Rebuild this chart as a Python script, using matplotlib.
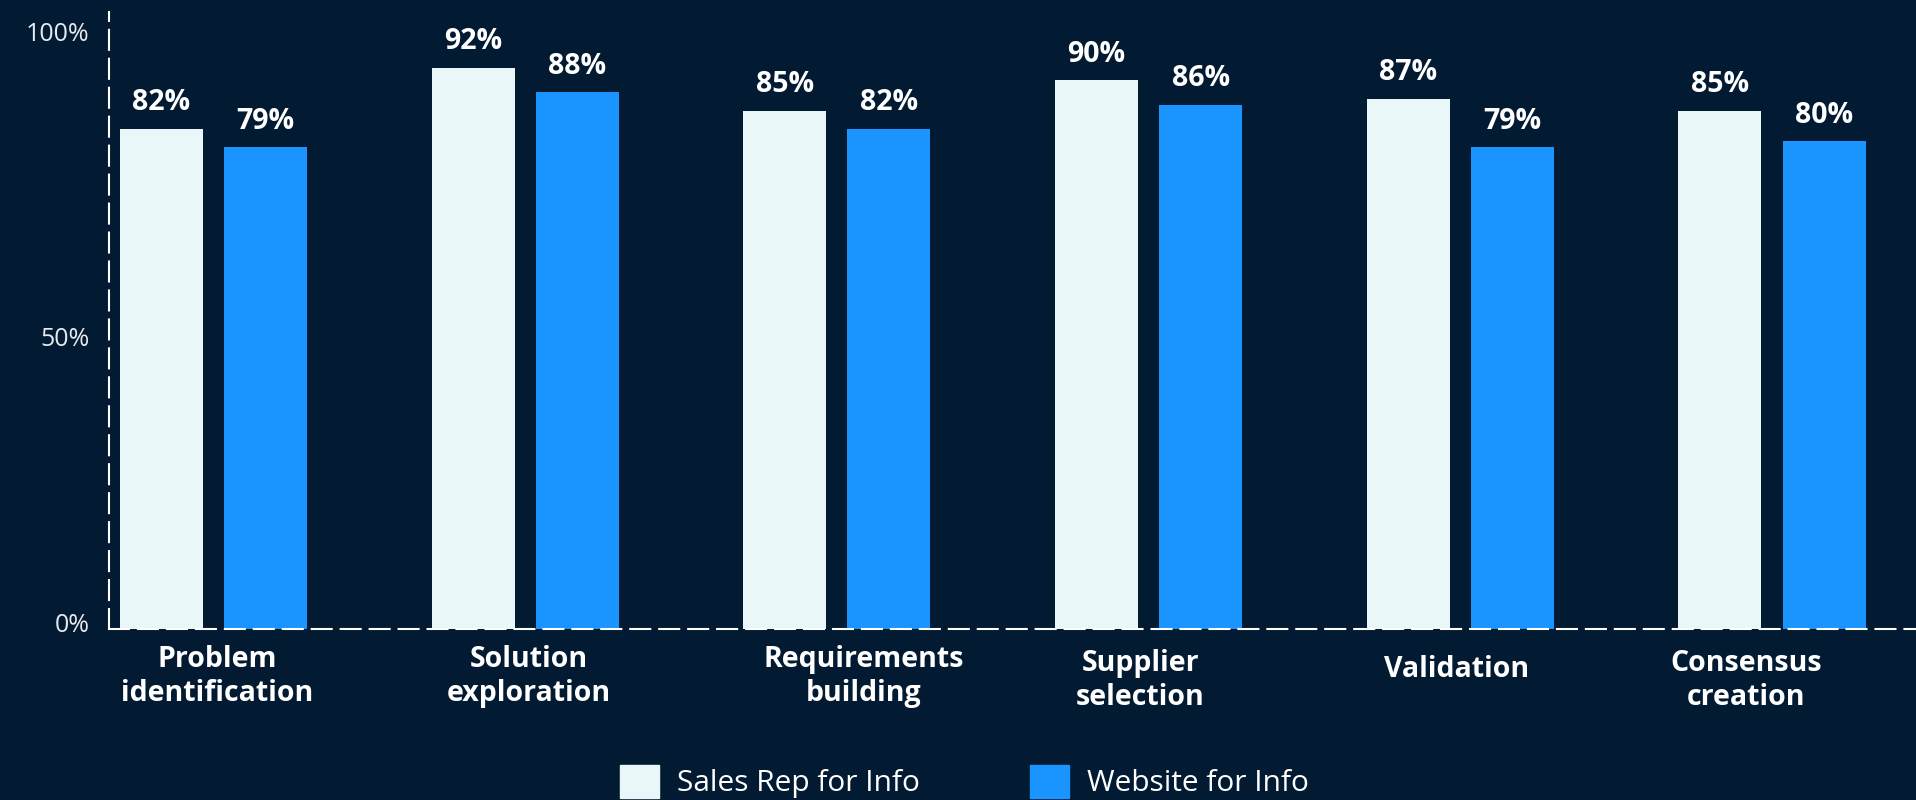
import matplotlib.pyplot as plt
import matplotlib.patches as mpatches
import matplotlib.transforms as mtransforms
import numpy as np

# data
categories = ["Problem\nidentification", "Solution\nexploration", "Requirements\nbuilding",
              "Supplier\nselection", "Validation", "Consensus\ncreation"]
sales_rep = [82, 92, 85, 90, 87, 85]
website = [79, 88, 82, 86, 79, 80]
series_names = ["Sales Rep for Info", "Website for Info"]
y_ticks = [0, 50, 100]

bg = "#021b32"
c_sales = "#e9f7f9"
c_web = "#1a94ff"

plt.rcParams['font.family'] = ['Open Sans', 'DejaVu Sans']

fig = plt.figure(figsize=(19.16, 8), dpi=100, facecolor=bg)
ax = fig.add_axes([109 / 1916, 1 - 629 / 800, 1807 / 1916, 617 / 800])
ax.set_facecolor(bg)

x = np.arange(len(categories))
w = 0.266
off = 0.167
ax.bar(x - off, sales_rep, w, color=c_sales, zorder=2)
ax.bar(x + off, website, w, color=c_web, zorder=2)

# value labels
for xs, vals in [(x - off, sales_rep), (x + off, website)]:
    for xi, v in zip(xs, vals):
        ax.annotate(f"{v}%", (xi, v), xytext=(0, 13.5), textcoords="offset points",
                    ha="center", va="baseline", color="white", fontsize=20.5, fontweight="bold")

ax.set_xlim(-0.335, 5.462)
ax.set_ylim(0, 101.2)

ax.set_xticks(x)
ax.set_xticklabels(categories, color="white", fontsize=20.5, fontweight="bold", linespacing=1.2)
ax.tick_params(axis="x", length=0, pad=35)
# the original labels sit a little off the group centres (pixels: right, up)
nudges = [(4, 1), (4, 1), (27, 1), (-8, -3), (-4, 8), (-26, -3)]
for lab, (dx, dy) in zip(ax.get_xticklabels(), nudges):
    lab.set_va("center")
    lab.set_transform(lab.get_transform() + mtransforms.ScaledTranslation(dx / 100, dy / 100, fig.dpi_scale_trans))

ax.set_yticks(y_ticks)
ax.set_yticklabels([f"{t}%" for t in y_ticks], color="#e6eaee", fontsize=18)
ax.tick_params(axis="y", length=0, pad=14)
shifts = [5, -9, -9]
for lab, s in zip(ax.get_yticklabels(), shifts):
    lab.set_transform(lab.get_transform() + mtransforms.ScaledTranslation(0, s / 72, fig.dpi_scale_trans))

for s in ["top", "right"]:
    ax.spines[s].set_visible(False)
for s in ["left", "bottom"]:
    ax.spines[s].set_color("white")
    ax.spines[s].set_linewidth(1.5)
    ax.spines[s].set_linestyle((0, (9.6, 4.3)))
    ax.spines[s].set_zorder(3)

handles = [mpatches.Patch(color=c_sales, label=series_names[0]),
           mpatches.Patch(color=c_web, label=series_names[1])]
leg = fig.legend(handles=handles, loc="upper left", bbox_to_anchor=(620 / 1916, 1 - 765 / 800),
                 ncol=2, frameon=False, fontsize=21.5, handlelength=1.3, handleheight=1.3,
                 handletextpad=0.6, columnspacing=3.7, borderpad=0, borderaxespad=0)
for t in leg.get_texts():
    t.set_color("white")

fig.savefig("out.png", dpi=100, facecolor=bg)
